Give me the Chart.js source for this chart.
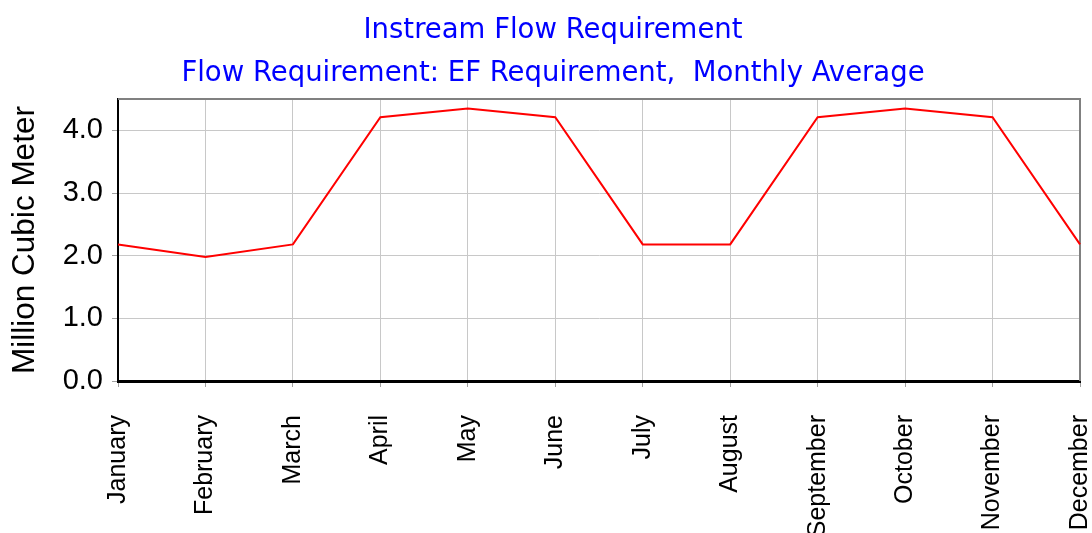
<!DOCTYPE html>
<html>
<head>
<meta charset="utf-8">
<script src="https://cdn.jsdelivr.net/npm/chart.js@4/dist/chart.umd.min.js"></script>
<style>
  html, body { margin: 0; padding: 0; background: #fff; overflow: hidden; }
  #box { width: 1092px; height: 533px; }
</style>
</head>
<body>
<div id="box"><canvas id="flowChart"></canvas></div>
<script>
// monthly EF requirement, million m3
const months = ["January", "February", "March", "April", "May", "June",
  "July", "August", "September", "October", "November", "December"];
const efRequirement = [2.18, 1.98, 2.18, 4.21, 4.35, 4.21, 2.18, 2.18, 4.21, 4.35, 4.21, 2.18];
const yTicks = [0, 1, 2, 3, 4];

// grey frame on top and right of the plot, title nudged a bit right
const frame = {
  id: "frame",
  afterLayout(chart) {
    if (chart.titleBlock) chart.titleBlock.left += 20;
  },
  beforeDatasetsDraw(chart) {
    const a = chart.chartArea, c = chart.ctx;
    c.save();
    c.strokeStyle = "#808080";
    c.lineWidth = 2;
    c.beginPath();
    c.moveTo(a.left, a.top);
    c.lineTo(a.right, a.top);
    c.lineTo(a.right, a.bottom);
    c.stroke();
    c.restore();
  }
};

new Chart(document.getElementById("flowChart"), {
  type: "line",
  data: {
    labels: months,
    datasets: [{
      label: "EF Requirement",
      data: efRequirement,
      borderColor: "#ff0000",
      borderWidth: 2,
      pointRadius: 0,
      tension: 0
    }]
  },
  options: {
    responsive: true,
    maintainAspectRatio: false,
    animation: false,
    layout: { padding: { left: 6, right: 12, top: 0, bottom: 0 } },
    plugins: {
      legend: { display: false },
      tooltip: { enabled: false },
      title: {
        display: true,
        text: ["Instream Flow Requirement", "Flow Requirement: EF Requirement,  Monthly Average"],
        color: "#0000ff",
        font: { family: "DejaVu Sans", size: 27.5, weight: "normal", lineHeight: 1.564 },
        padding: { top: 9, bottom: 4 }
      }
    },
    scales: {
      x: {
        grid: { color: "#c8c8c8", tickLength: 6, tickColor: "#a0a0a0" },
        border: { color: "#000", width: 3 },
        ticks: {
          color: "#000",
          font: { family: "Liberation Sans", size: 25 },
          maxRotation: 90,
          minRotation: 90,
          autoSkip: false,
          padding: 28
        },
        afterFit(scale) {
          scale.height = 152;
          scale.paddingLeft = 0;
          scale.paddingRight = 0;
        }
      },
      y: {
        min: 0,
        max: 4.5,
        grid: { color: "#c8c8c8", tickLength: 6, tickColor: "#a0a0a0" },
        border: { color: "#000", width: 2 },
        afterBuildTicks(scale) {
          scale.ticks = yTicks.map(v => ({ value: v }));
        },
        ticks: {
          color: "#000",
          font: { family: "Liberation Sans", size: 29 },
          padding: 9,
          callback: v => v.toFixed(1)
        },
        title: {
          display: true,
          text: "Million Cubic Meter",
          color: "#000",
          font: { family: "Liberation Sans", size: 31.5 },
          padding: { top: 0, bottom: 6 }
        },
        afterFit(scale) { scale.width = 112; }
      }
    }
  },
  plugins: [frame]
});
</script>
</body>
</html>
